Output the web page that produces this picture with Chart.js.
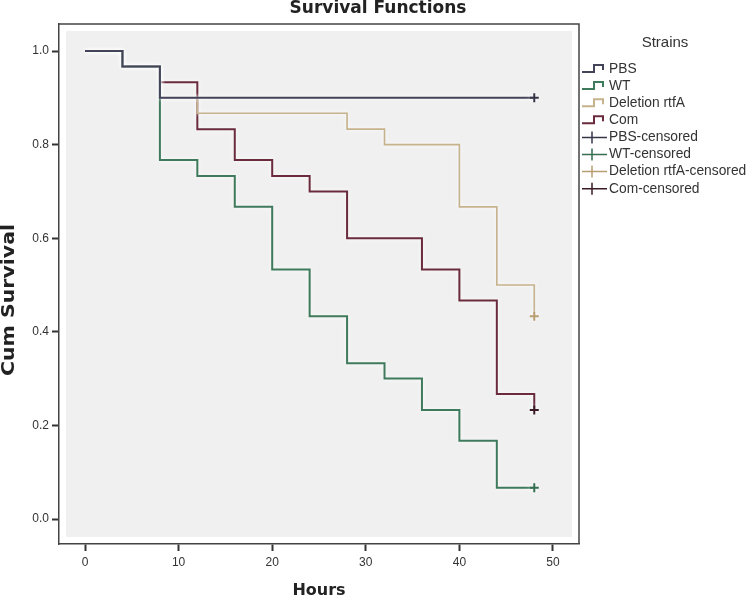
<!DOCTYPE html>
<html>
<head>
<meta charset="utf-8">
<script src="https://cdn.jsdelivr.net/npm/chart.js@4.4.1/dist/chart.umd.min.js"></script>
<style>
  html, body { margin: 0; padding: 0; background: #fff; }
</style>
</head>
<body>
<canvas id="km" width="750" height="601"></canvas>
<script>
// survival steps (hours, cumulative survival)
const pbsTimes = [0, 4, 8, 48];
const pbsSurv = [1.0, 0.967, 0.9, 0.9];
const wtTimes = [0, 4, 8, 12, 16, 20, 24, 28, 32, 36, 40, 44, 48];
const wtSurv = [1.0, 0.967, 0.767, 0.733, 0.667, 0.533, 0.433, 0.333, 0.3, 0.233, 0.167, 0.067, 0.067];
const delTimes = [0, 4, 8, 12, 28, 32, 40, 44, 48];
const delSurv = [1.0, 0.967, 0.9, 0.867, 0.833, 0.8, 0.667, 0.5, 0.433];
const comTimes = [0, 4, 8, 12, 16, 20, 24, 28, 36, 40, 44, 48];
const comSurv = [1.0, 0.967, 0.933, 0.833, 0.767, 0.733, 0.7, 0.6, 0.533, 0.467, 0.267, 0.233];

// censored marks at end of follow-up, order: PBS, WT, Deletion rtfA, Com
const censorTime = 48;
const censorSurv = [0.9, 0.067, 0.433, 0.233];

const strains = ['PBS', 'WT', 'Deletion rtfA', 'Com'];
const lineColors = ['#43435a', '#3f7a5c', '#c6b28c', '#6a2b3d'];
const censorColors = ['#35354a', '#356e50', '#b89f72', '#3a1a26'];

const xTicks = [0, 10, 20, 30, 40, 50];
const yTicks = [0.0, 0.2, 0.4, 0.6, 0.8, 1.0];

const FONT = '"Liberation Sans", Arial, sans-serif';
const BOLD = '"DejaVu Sans", Verdana, sans-serif';

function pts(times, surv) {
  return times.map((t, i) => ({ x: t, y: surv[i] }));
}

const curves = [
  pts(pbsTimes, pbsSurv),
  pts(wtTimes, wtSurv),
  pts(delTimes, delSurv),
  pts(comTimes, comSurv)
];

const datasets = [];
// censored marks on top
strains.forEach((s, i) => {
  datasets.push({
    label: s + '-censored',
    data: [{ x: censorTime, y: censorSurv[i] }],
    showLine: false,
    pointStyle: 'cross',
    pointRadius: 4.5,
    pointBorderWidth: 2,
    borderColor: censorColors[i],
    backgroundColor: censorColors[i],
    order: 0
  });
});
strains.forEach((s, i) => {
  datasets.push({
    label: s,
    data: curves[i],
    stepped: true,
    borderColor: lineColors[i],
    borderWidth: i === 2 ? 1.6 : 2,
    pointRadius: 0,
    fill: false,
    order: i + 1
  });
});

const panel = {
  id: 'panel',
  beforeDraw(chart) {
    const { ctx, chartArea: a } = chart;
    ctx.save();
    ctx.fillStyle = '#fff';
    ctx.fillRect(0, 0, chart.width, chart.height);
    ctx.fillStyle = '#f0f0f0';
    ctx.fillRect(a.left + 7, a.top + 7, a.right - a.left - 14, a.bottom - a.top - 14);
    ctx.restore();
  },
  // soft white halo round the lines, like the original export
  beforeDatasetDraw(chart) {
    const ctx = chart.ctx;
    ctx.save();
    ctx.shadowColor = 'rgba(255,255,255,0.95)';
    ctx.shadowBlur = 4;
  },
  afterDatasetDraw(chart) {
    chart.ctx.restore();
  },
  afterDraw(chart) {
    const { ctx, chartArea: a } = chart;
    ctx.save();
    // top and right sides of the frame
    ctx.strokeStyle = '#444';
    ctx.lineWidth = 1.5;
    ctx.beginPath();
    ctx.moveTo(a.left, a.top);
    ctx.lineTo(a.right, a.top);
    ctx.lineTo(a.right, a.bottom);
    ctx.stroke();

    // title and axis titles
    ctx.fillStyle = '#222';
    ctx.textAlign = 'center';
    ctx.textBaseline = 'middle';
    ctx.font = 'bold 17px ' + BOLD;
    ctx.fillText('Survival Functions', 378, 9);
    ctx.font = 'bold 16px ' + BOLD;
    ctx.fillText('Hours', 319, 591);
    ctx.save();
    ctx.translate(9, 300);
    ctx.rotate(-Math.PI / 2);
    ctx.font = 'bold 17.5px ' + BOLD;
    const w = ctx.measureText('Cum Survival').width;
    ctx.scale(152 / w, 1);
    ctx.fillText('Cum Survival', 0, 0);
    ctx.restore();

    // legend
    ctx.font = '15px ' + FONT;
    ctx.fillStyle = '#333';
    ctx.fillText('Strains', 665, 43);
    ctx.font = '13.8px ' + FONT;
    ctx.textAlign = 'left';
    const x0 = 582;
    let y = 69;
    strains.forEach((s, i) => {
      ctx.strokeStyle = lineColors[i];
      ctx.lineWidth = 2;
      ctx.beginPath();
      ctx.moveTo(x0, y + 3);
      ctx.lineTo(594, y + 3);
      ctx.lineTo(594, y - 4);
      ctx.lineTo(603, y - 4);
      ctx.lineTo(603, y + 1);
      ctx.stroke();
      ctx.fillStyle = '#333';
      ctx.fillText(s, 609, y);
      y += 17.1;
    });
    strains.forEach((s, i) => {
      ctx.strokeStyle = censorColors[i];
      ctx.lineWidth = 1.5;
      ctx.beginPath();
      ctx.moveTo(x0, y);
      ctx.lineTo(607, y);
      ctx.moveTo(592, y - 6);
      ctx.lineTo(592, y + 6);
      ctx.stroke();
      ctx.fillStyle = '#333';
      ctx.fillText(s + '-censored', 609, y);
      y += 17.1;
    });
    ctx.restore();
  }
};

new Chart(document.getElementById('km'), {
  type: 'line',
  data: { datasets },
  options: {
    responsive: false,
    animation: false,
    layout: { padding: { top: 24, right: 171, left: 0, bottom: 0 } },
    plugins: {
      legend: { display: false },
      title: { display: false },
      tooltip: { enabled: false }
    },
    scales: {
      x: {
        type: 'linear',
        min: -2.78,
        max: 52.78,
        afterBuildTicks: s => { s.ticks = xTicks.map(v => ({ value: v })); },
        afterFit: s => { s.height = 57; },
        grid: { drawOnChartArea: false, drawTicks: true, tickLength: 7, tickColor: '#333', tickWidth: 2 },
        border: { display: true, color: '#444', width: 1.5 },
        ticks: { color: '#333', font: { family: FONT, size: 12 }, padding: 4, callback: v => String(v) }
      },
      y: {
        type: 'linear',
        min: -0.0534,
        max: 1.0577,
        afterBuildTicks: s => { s.ticks = yTicks.map(v => ({ value: v })); },
        afterFit: s => { s.width = 59; },
        grid: { drawOnChartArea: false, drawTicks: true, tickLength: 7, tickColor: '#333', tickWidth: 2 },
        border: { display: true, color: '#444', width: 1.5 },
        ticks: { color: '#333', font: { family: FONT, size: 12 }, padding: 3, callback: v => v.toFixed(1) }
      }
    }
  },
  plugins: [panel]
});
</script>
</body>
</html>
